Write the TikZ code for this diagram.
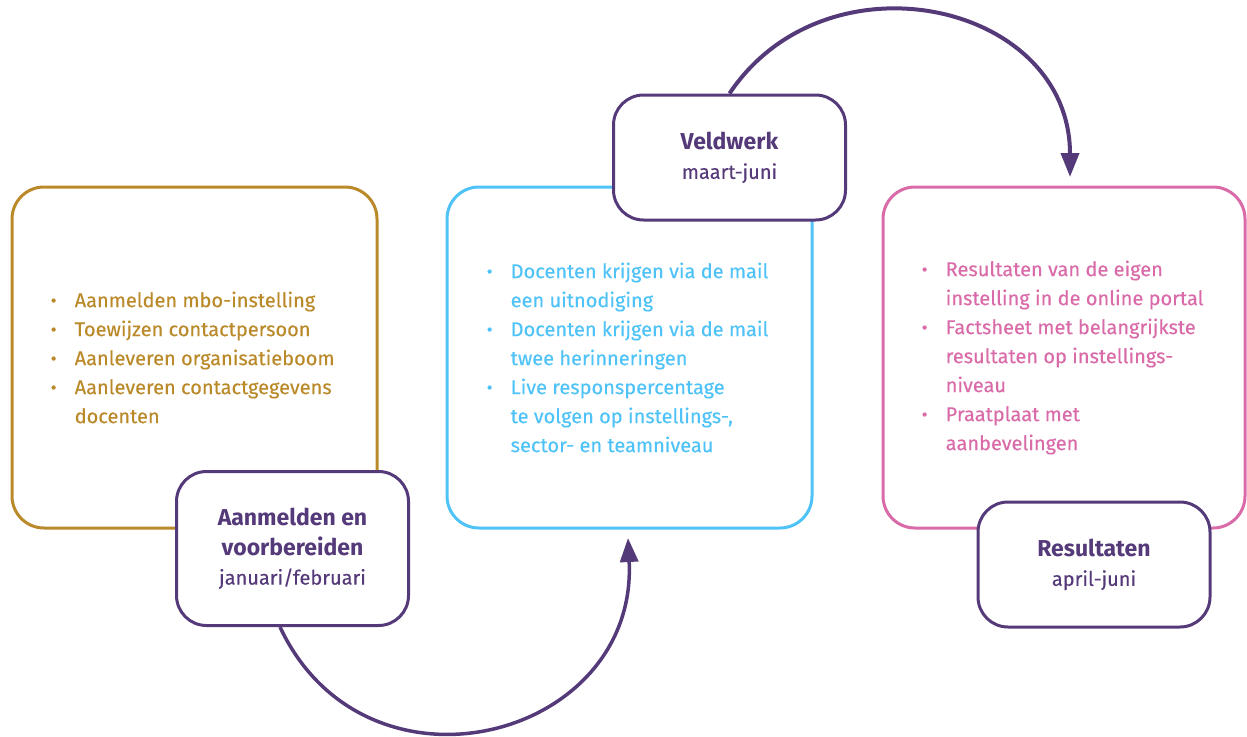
\documentclass[tikz,border=0pt]{standalone}
\usepackage{fontspec}
\setmainfont{Fira Sans}[UprightFeatures={FakeBold=0.3}]
\usetikzlibrary{arrows.meta}
\definecolor{goud}{HTML}{BA8A2A}
\definecolor{paars}{HTML}{553A7A}
\definecolor{blauw}{HTML}{4FC3F7}
\definecolor{roze}{HTML}{D96BA8}
\newcommand{\punt}{\makebox[24pt][l]{\raisebox{0.5pt}{\scalebox{0.9}{\textbullet}}}}
\newcommand{\inspr}{\hspace*{24pt}}
\newcommand{\titel}[1]{{\fontsize{23}{28}\selectfont\bfseries #1}}
\begin{document}
\begin{tikzpicture}[x=1pt,y=-1pt,
  kader/.style={draw=#1,line width=3pt,rounded corners=32pt,minimum width=365pt,minimum height=341pt,inner sep=0pt},
  lijst/.style={text=#1,anchor=west,align=left,inner sep=0pt,font=\fontsize{20}{29}\selectfont},
  fase/.style={draw=paars,line width=3pt,rounded corners=30pt,fill=white,text=paars,align=center,minimum width=232pt,inner sep=0pt,font=\fontsize{20}{29.5}\selectfont},
  pijl/.style={draw=paars,line width=3.5pt,-{Triangle[length=24pt,width=18pt]}}]
\useasboundingbox (0,0) rectangle (1247,736);
% de drie kaders
\node[kader=goud] (aanmelden) at (194.5,357.5) {};
\node[kader=blauw] (veld) at (629.5,357.5) {};
\node[kader=roze,minimum width=362pt] (uitkomst) at (1064,357.5) {};
\node[lijst=goud] (lijst1) at ([xshift=40pt]aanmelden.west) {\punt Aanmelden mbo-instelling\\
\punt Toewijzen contactpersoon\\
\punt Aanleveren organisatieboom\\
\punt Aanleveren contactgegevens\\
\inspr docenten};
\node[lijst=blauw] (lijst2) at ([xshift=41pt]veld.west) {\punt Docenten krijgen via de mail\\
\inspr een uitnodiging\\
\punt Docenten krijgen via de mail\\
\inspr twee herinneringen\\
\punt Live responspercentage\\
\inspr te volgen op instellings-,\\
\inspr sector- en teamniveau};
\node[lijst=roze] (lijst3) at ([xshift=40pt]uitkomst.west) {\punt Resultaten van de eigen\\
\inspr instelling in de online portal\\
\punt Factsheet met belangrijkste\\
\inspr resultaten op instellings-\\
\inspr niveau\\
\punt Praatplaat met\\
\inspr aanbevelingen};
% fasen
\node[fase,minimum height=154pt] (stap1) at (292.5,548.5) {\titel{Aanmelden en}\\\titel{voorbereiden}\\januari/februari};
\node[fase,minimum height=125pt] (veldwerk) at (729.5,157.5) {\titel{Veldwerk}\\maart-juni};
\node[fase,minimum height=125pt] (resultaten) at (1094,564.5) {\titel{Resultaten}\\april-juni};
% pijlen
\coordinate (doel1) at (628,538);
\coordinate (doel2) at (1070,177);
\draw[pijl] ([xshift=-12.5pt]stap1.south) .. controls +(86,183) and +(10,202) .. (doel1);
\draw[pijl,line width=4pt] (veldwerk.north) .. controls +(97,-145) and +(0,-175) .. (doel2);
\end{tikzpicture}
\end{document}
